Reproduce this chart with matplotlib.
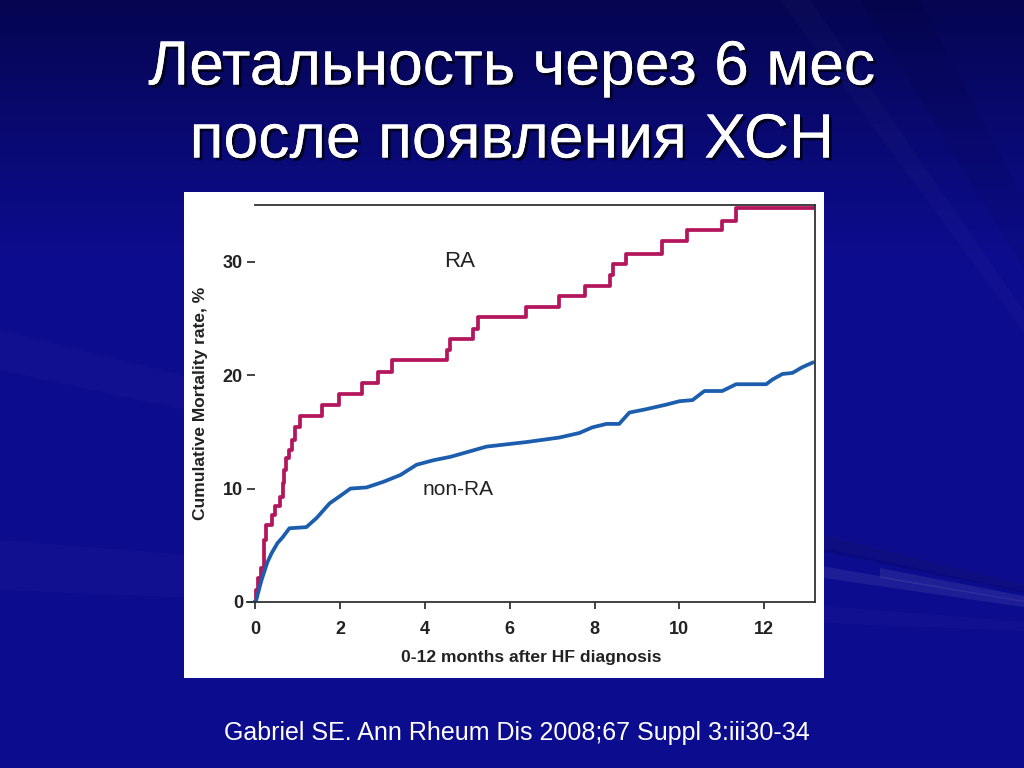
import numpy as np
import matplotlib.pyplot as plt
from matplotlib.patches import Rectangle, Polygon
import matplotlib.patheffects as pe

plt.rcParams['font.family'] = ['Liberation Sans', 'DejaVu Sans']

# data (months after HF diagnosis, cumulative mortality %)
ra_months = [0.0, 0.02, 0.07, 0.14, 0.19, 0.21, 0.26, 0.38, 0.45, 0.57, 0.64,
             0.68, 0.71, 0.78, 0.85, 0.94, 1.06, 1.58, 1.98, 2.52, 2.88, 3.21,
             4.53, 4.58, 5.12, 5.24, 6.39, 7.17, 7.78, 8.37, 8.44, 8.75, 9.58,
             10.19, 11.01, 11.34, 13.18]
ra_rate = [0.0, 1.1, 2.1, 3.0, 4.1, 5.5, 6.8, 7.7, 8.5, 9.3, 10.5,
           11.6, 12.7, 13.4, 14.3, 15.4, 16.4, 17.4, 18.3, 19.3, 20.3, 21.3,
           22.2, 23.2, 24.1, 25.1, 26.0, 27.0, 27.9, 28.8, 29.8, 30.7, 31.8,
           32.8, 33.6, 34.7, 34.7]

nonra_months = [0.0, 0.02, 0.14, 0.28, 0.38, 0.52, 0.64, 0.80, 1.20, 1.32, 1.44,
                1.75, 1.98, 2.24, 2.62, 3.02, 3.42, 3.80, 4.20, 4.60, 4.98, 5.45,
                6.39, 7.17, 7.64, 7.95, 8.28, 8.58, 8.82, 9.22, 9.69, 10.0, 10.31,
                10.59, 11.01, 11.34, 12.05, 12.19, 12.43, 12.67, 12.90, 13.14]
nonra_rate = [0.0, 0.2, 1.9, 3.5, 4.3, 5.2, 5.7, 6.5, 6.6, 7.0, 7.4,
              8.7, 9.3, 10.0, 10.1, 10.6, 11.2, 12.1, 12.5, 12.8, 13.2, 13.7,
              14.1, 14.5, 14.9, 15.4, 15.7, 15.7, 16.7, 17.0, 17.4, 17.7, 17.8,
              18.6, 18.6, 19.2, 19.2, 19.6, 20.1, 20.2, 20.7, 21.1]

x_ticks = [0, 2, 4, 6, 8, 10, 12]
y_ticks = [0, 10, 20, 30]

title_lines = ['Летальность через 6 мес', 'после появления ХСН']
citation = 'Gabriel SE. Ann Rheum Dis 2008;67 Suppl 3:iii30-34'

fig = plt.figure(figsize=(10.24, 7.68), dpi=100)

# slide background: dark blue gradient with a few faint streaks
bg = fig.add_axes([0, 0, 1, 1])
bg.set_xlim(0, 1024)
bg.set_ylim(768, 0)
bg.axis('off')
grad = np.linspace(0, 1, 256).reshape(-1, 1)
top = np.array([0.02, 0.02, 0.32])
mid = np.array([0.05, 0.05, 0.56])
img = top + (mid - top) * np.clip(grad * 3, 0, 1)
bg.imshow(img.reshape(256, 1, 3), extent=(0, 1024, 768, 0), aspect='auto', zorder=0)
cx, cy = 1250, 640
streaks = [((780, 0), (810, 0), 0.02, 'white'),
           ((860, 0), (920, 0), 0.05, 'black'),
           ((0, 330), (0, 370), 0.02, 'white'),
           ((600, 480), (600, 505), 0.10, 'black'),
           ((700, 545), (700, 560), 0.07, 'white'),
           ((880, 568), (880, 578), 0.08, 'white'),
           ((0, 540), (0, 590), 0.02, 'white')]
for p1, p2, a, c in streaks:
    bg.add_patch(Polygon([p1, p2, (cx, cy)], closed=True, color=c, alpha=a, lw=0, zorder=1))

# white panel behind the chart
bg.add_patch(Rectangle((184, 192), 640, 486, facecolor='white', edgecolor='none', zorder=2))

ax = fig.add_axes([247 / 1024, 1 - 602 / 768, 568 / 1024, 397 / 768])
ax.set_facecolor('none')
ax.step(ra_months, ra_rate, where='post', color='#B3165C', lw=2.7)
ax.plot(nonra_months, nonra_rate, color='#1C5DAE', lw=2.7)

ax.set_xlim(-0.2, 13.2)
ax.set_ylim(0, 35)
ax.set_xticks(x_ticks)
ax.set_yticks(y_ticks)
ax.spines['left'].set_position(('data', 0))
ax.spines['left'].set_visible(False)
ax.spines['top'].set_bounds(0, 13.2)
for s in ['top', 'right', 'bottom']:
    ax.spines[s].set_color('#333333')
    ax.spines[s].set_linewidth(1.3)
ax.tick_params(axis='x', direction='out', length=5, width=1.2, pad=9,
               labelsize=13, colors='#222222')
ax.tick_params(axis='y', direction='out', length=6, width=1.2, pad=3,
               labelsize=13, colors='#222222')
for lab in ax.get_xticklabels() + ax.get_yticklabels():
    lab.set_fontweight('bold')

ax.set_xlabel('0-12 months after HF diagnosis', fontsize=12.6, fontweight='bold',
              color='#222222', labelpad=8)
ax.set_ylabel('Cumulative Mortality rate, %', fontsize=12.5, fontweight='bold',
              color='#222222')
ax.yaxis.set_label_coords(-0.068, 0.5)

ax.text(4.81, 30.0, 'RA', ha='center', va='center', fontsize=16, color='#222222')
ax.text(4.79, 9.9, 'non-RA', ha='center', va='center', fontsize=15, color='#222222')

shadow = [pe.withSimplePatchShadow(offset=(2, -2), shadow_rgbFace='black', alpha=0.7),
          pe.Normal()]
fig.text(0.5, 1 - 68 / 768, title_lines[0], ha='center', va='center', fontsize=45,
         color='white', path_effects=shadow)
fig.text(0.5, 1 - 141 / 768, title_lines[1], ha='center', va='center', fontsize=45,
         color='white', path_effects=shadow)
fig.text(517 / 1024, 1 - 733 / 768, citation, ha='center', va='center', fontsize=18,
         color='white')

fig.savefig('out.png', dpi=100, facecolor='#0a0a80')
